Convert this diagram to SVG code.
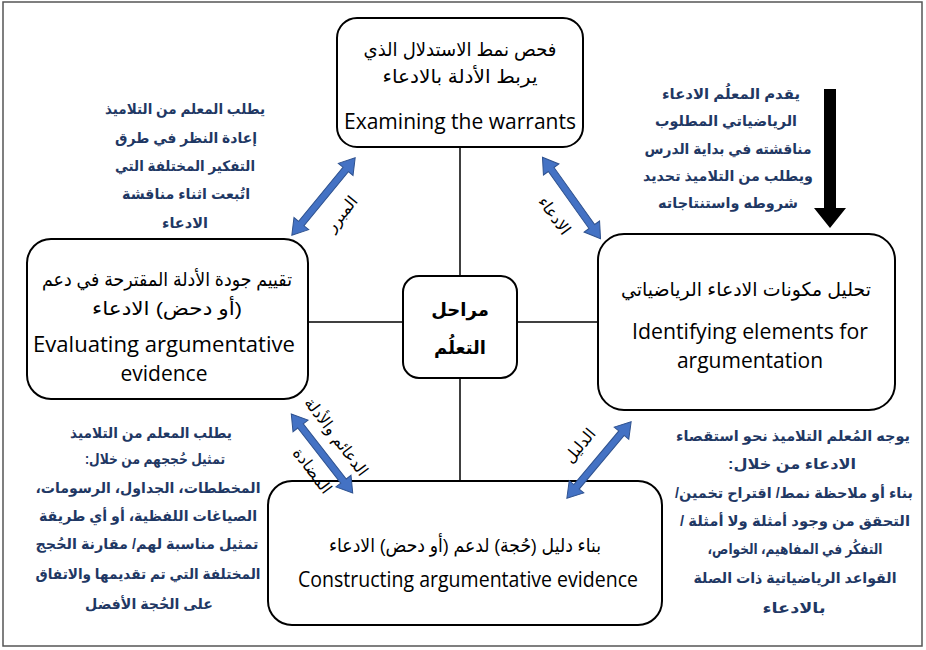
<svg xmlns="http://www.w3.org/2000/svg" width="926" height="650" viewBox="0 0 926 650">
<style>
.node{fill:#fff;stroke:#000;stroke-width:2}
.ar{font-family:"Liberation Sans","DejaVu Sans",sans-serif;direction:rtl;text-anchor:middle;fill:#000}
.en{font-family:"Open Sans","Noto Sans",sans-serif;text-anchor:middle;fill:#000;font-size:21px}
.nt{font-size:19px}
.note{font-family:"Liberation Sans","DejaVu Sans",sans-serif;direction:rtl;text-anchor:middle;fill:#1F3864;font-weight:bold;font-size:14.5px}
.lbl{font-family:"Liberation Sans","DejaVu Sans",sans-serif;direction:rtl;text-anchor:middle;fill:#000;font-size:16px}
.conn{stroke:#000;stroke-width:1.5;fill:none}
.barrow{fill:#4472C4;stroke:#2F528F;stroke-width:1}
</style>
<defs>
<polygon id="dbl" points="-50,0 -35,-9.5 -35,-3.5 35,-3.5 35,-9.5 50,0 35,9.5 35,3.5 -35,3.5 -35,9.5"/>
</defs>
<rect x="3" y="2" width="919" height="644" fill="#fff" stroke="#555" stroke-width="1.5"/>
<g id="connectors">
<line class="conn" x1="460" y1="147" x2="460" y2="276"/>
<line class="conn" x1="460" y1="378" x2="460" y2="481"/>
<line class="conn" x1="308" y1="322" x2="403" y2="322"/>
<line class="conn" x1="517" y1="322" x2="598" y2="322"/>
</g>
<g id="node-top">
<rect class="node" x="337" y="18" width="246" height="129" rx="20"/>
<text class="ar nt" x="460" y="56" textLength="193" lengthAdjust="spacingAndGlyphs">فحص نمط الاستدلال الذي</text>
<text class="ar nt" x="460" y="83" textLength="155" lengthAdjust="spacingAndGlyphs">يربط الأدلة بالادعاء</text>
<text class="en" x="460" y="129" textLength="232" lengthAdjust="spacingAndGlyphs">Examining the warrants</text>
</g>
<g id="node-center">
<rect class="node" x="403" y="276" width="114" height="102" rx="16"/>
<text class="ar" x="460" y="316" font-weight="bold" font-size="18">مراحل</text>
<text class="ar" x="460" y="354" font-weight="bold" font-size="18">التعلُم</text>
</g>
<g id="node-left">
<rect class="node" x="27" y="239" width="281" height="160" rx="24"/>
<text class="ar nt" x="167" y="286" textLength="250" lengthAdjust="spacingAndGlyphs">تقييم جودة الأدلة المقترحة في دعم</text>
<text class="ar nt" x="167" y="315" textLength="150" lengthAdjust="spacingAndGlyphs">(أو دحض) الادعاء</text>
<text class="en" x="164" y="352" textLength="262" lengthAdjust="spacingAndGlyphs">Evaluating argumentative</text>
<text class="en" x="164" y="381">evidence</text>
</g>
<g id="node-right">
<rect class="node" x="598" y="234" width="297" height="176" rx="26"/>
<text class="ar nt" x="746" y="296" textLength="250" lengthAdjust="spacingAndGlyphs">تحليل مكونات الادعاء الرياضياتي</text>
<text class="en" x="750" y="339" textLength="236" lengthAdjust="spacingAndGlyphs">Identifying elements for</text>
<text class="en" x="750" y="368">argumentation</text>
</g>
<g id="node-bottom">
<rect class="node" x="268" y="481" width="394" height="144" rx="24"/>
<text class="ar nt" x="465" y="552" textLength="272" lengthAdjust="spacingAndGlyphs">بناء دليل (حُجة)  لدعم (أو دحض) الادعاء</text>
<text class="en" x="468" y="587" textLength="340" lengthAdjust="spacingAndGlyphs">Constructing argumentative evidence</text>
</g>
<g id="arrows">
<use href="#dbl" class="barrow" transform="translate(323.5,196.5) rotate(-50.7)"/>
<use href="#dbl" class="barrow" transform="translate(571.5,198) rotate(54.5)"/>
<use href="#dbl" class="barrow" transform="translate(322,453.5) rotate(52.1)"/>
<use href="#dbl" class="barrow" transform="translate(599,460) rotate(-50)"/>
<polygon points="824,89 836,89 836,208 846,208 830,228 814,208 824,208" fill="#000"/>
<text class="lbl" transform="translate(342,214) rotate(-51)" dy="5">المبرر</text>
<text class="lbl" transform="translate(554,216) rotate(54)" dy="5">الادعاء</text>
<text class="lbl" transform="translate(336,437) rotate(53)" dy="5">الدعائم والأدلة</text>
<text class="lbl" transform="translate(312,471) rotate(53)" dy="5">المضادة</text>
<text class="lbl" transform="translate(580,446) rotate(-50)" dy="5">الدليل</text>
</g>
<g id="note-top-left">
<text class="note" x="185" y="114" textLength="160" lengthAdjust="spacingAndGlyphs">يطلب المعلم من التلاميذ</text>
<text class="note" x="186" y="143" textLength="142" lengthAdjust="spacingAndGlyphs">إعادة النظر في طرق</text>
<text class="note" x="185" y="171" textLength="140" lengthAdjust="spacingAndGlyphs">التفكير المختلفة التي</text>
<text class="note" x="186" y="199" textLength="128" lengthAdjust="spacingAndGlyphs">اتُبعت اثناء مناقشة</text>
<text class="note" x="185" y="228" textLength="46" lengthAdjust="spacingAndGlyphs">الادعاء</text>
</g>
<g id="note-top-right">
<text class="note" x="731" y="99" textLength="138" lengthAdjust="spacingAndGlyphs">يقدم المعلُم الادعاء</text>
<text class="note" x="726" y="126" textLength="142" lengthAdjust="spacingAndGlyphs">الرياضياتي المطلوب</text>
<text class="note" x="728" y="154" textLength="167" lengthAdjust="spacingAndGlyphs">مناقشته في بداية الدرس</text>
<text class="note" x="728" y="181" textLength="170" lengthAdjust="spacingAndGlyphs">ويطلب من التلاميذ تحديد</text>
<text class="note" x="728" y="208" textLength="140" lengthAdjust="spacingAndGlyphs">شروطه واستنتاجاته</text>
</g>
<g id="note-bottom-left">
<text class="note" x="151" y="438" textLength="162" lengthAdjust="spacingAndGlyphs">يطلب المعلم من التلاميذ</text>
<text class="note" x="155" y="464" textLength="140" lengthAdjust="spacingAndGlyphs">تمثيل حُججهم من خلال:</text>
<text class="note" x="148" y="493" textLength="225" lengthAdjust="spacingAndGlyphs">المخططات، الجداول، الرسومات،</text>
<text class="note" x="148" y="521" textLength="218" lengthAdjust="spacingAndGlyphs">الصياغات اللفظية، أو أي طريقة</text>
<text class="note" x="147" y="549" textLength="223" lengthAdjust="spacingAndGlyphs">تمثيل مناسبة لهم/ مقارنة الحُجج</text>
<text class="note" x="148" y="579" textLength="225" lengthAdjust="spacingAndGlyphs">المختلفة التي تم تقديمها والاتفاق</text>
<text class="note" x="149" y="609" textLength="128" lengthAdjust="spacingAndGlyphs">على الحُجة الأفضل</text>
</g>
<g id="note-bottom-right">
<text class="note" x="793" y="441" textLength="234" lengthAdjust="spacingAndGlyphs">يوجه المُعلم التلاميذ نحو استقصاء</text>
<text class="note" x="792" y="469" textLength="128" lengthAdjust="spacingAndGlyphs">الادعاء من خلال:</text>
<text class="note" x="794" y="498" textLength="238" lengthAdjust="spacingAndGlyphs">بناء أو ملاحظة نمط/ اقتراح تخمين/</text>
<text class="note" x="795" y="526" textLength="230" lengthAdjust="spacingAndGlyphs">التحقق من وجود أمثلة ولا أمثلة /</text>
<text class="note" x="795" y="554" textLength="175" lengthAdjust="spacingAndGlyphs">التفكُر في المفاهيم، الخواص،</text>
<text class="note" x="795" y="583" textLength="203" lengthAdjust="spacingAndGlyphs">القواعد الرياضياتية ذات الصلة</text>
<text class="note" x="794" y="613" textLength="63" lengthAdjust="spacingAndGlyphs">بالادعاء</text>
</g>
</svg>
